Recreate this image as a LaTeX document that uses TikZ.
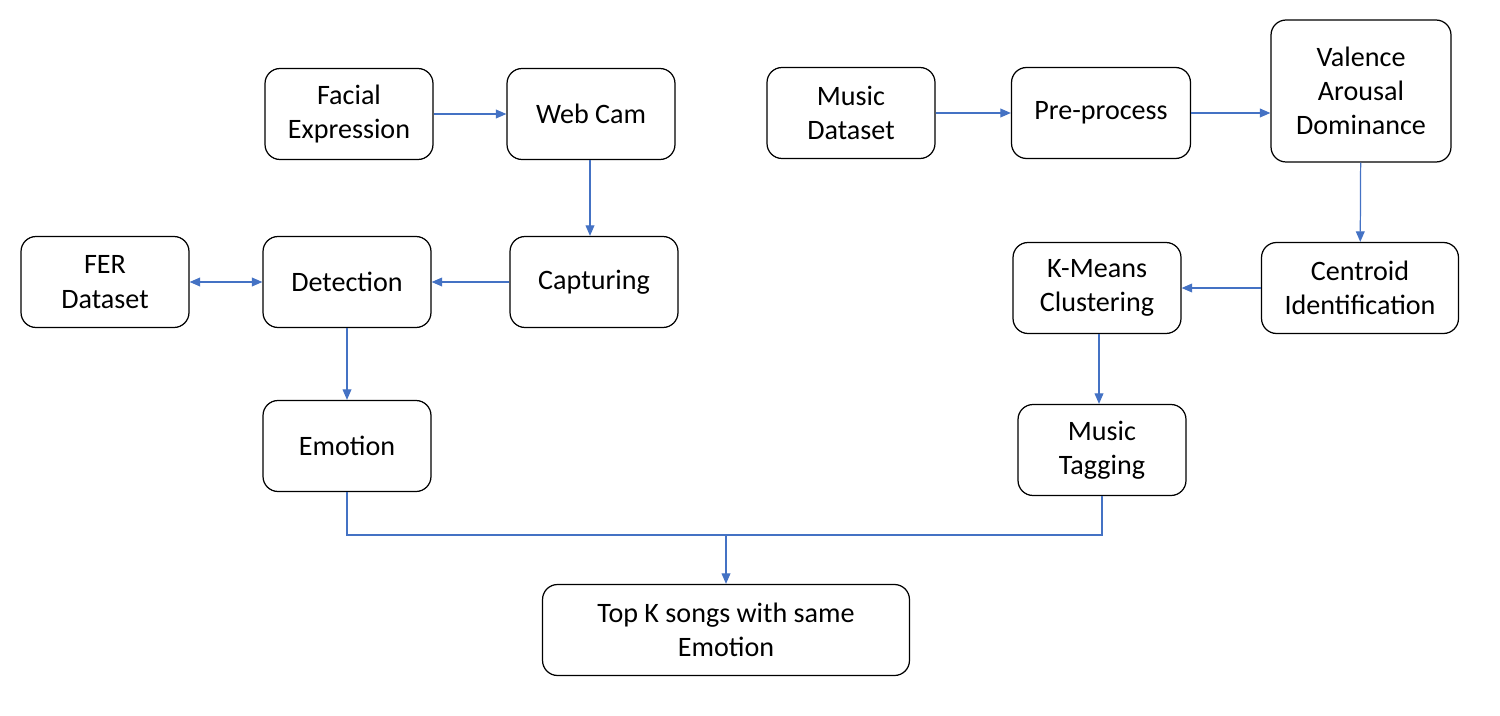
\documentclass[tikz,border=0pt]{standalone}
\usepackage{fontspec}
\setmainfont{Carlito}
\usetikzlibrary{arrows.meta, calc, positioning}
\definecolor{arrowblue}{RGB}{68,114,196}

\begin{document}
\begin{tikzpicture}[x=0.02cm,y=-0.02cm,>={Triangle[length=6pt,width=5pt]},
  box/.style={draw,line width=0.7pt,rounded corners=0.3cm,align=center,
    minimum width=3.36cm,minimum height=1.82cm,inner sep=2pt,
    font=\fontsize{16}{19.5}\selectfont},
  flow/.style={->,draw=arrowblue,fill=arrowblue,line width=0.7pt}]
\useasboundingbox (0,0) rectangle (1500,716);
\node[box] at (349,114) (facial) {Facial\\Expression};
\node[box] at (591,114) (webcam) {Web Cam};
\node[box] at (851,113) (music) {Music\\Dataset};
\node[box,minimum width=3.58cm] at (1101,113) (pre) {Pre-process};
\node[box,minimum width=3.6cm,minimum height=2.84cm] at (1361,91) (vad) {Valence\\Arousal\\Dominance};
\node[box] at (105,282) (fer) {FER\\Dataset};
\node[box] at (347,282) (detect) {Detection};
\node[box] at (594,282) (capture) {Capturing};
\node[box] at (1097,288) (kmeans) {K-Means\\Clustering};
\node[box,minimum width=3.94cm] at (1360,288) (centroid) {Centroid\\Identification};
\node[box] at (347,446) (emotion) {Emotion};
\node[box] at (1102,450) (tagging) {Music\\Tagging};
\node[box,minimum width=7.34cm] at (726,630) (topk) {Top K songs with same\\Emotion};
\coordinate (join) at (726,535);
\draw[flow] (facial) to (webcam);
\draw[flow] (webcam.south -| 590,0) to (capture.north -| 590,0);
\draw[flow] (capture) to (detect);
\draw[flow,<->] (fer) to (detect);
\draw[flow] (detect) to (emotion);
\draw[flow] (music) to (pre);
\draw[flow] (pre) to (pre -| vad.west);
\draw[flow] (vad) to (centroid);
\draw[flow] (centroid) to (kmeans);
\draw[flow] (kmeans.south -| 1099,0) to (tagging.north -| 1099,0);
\draw[arrowblue,line width=0.7pt] (emotion.south) |- (join) -| (tagging.south);
\draw[flow] (join) to (topk);
\end{tikzpicture}
\end{document}
